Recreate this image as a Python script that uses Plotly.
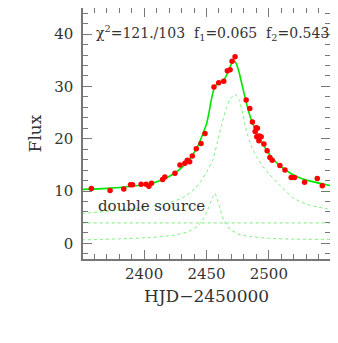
import plotly.graph_objects as go

# observed photometry (HJD-2450000, flux)
obs_t = [2357.7, 2372.7, 2383.7, 2389.1, 2390.7, 2397.6, 2401.6, 2403.8, 2405.9,
         2414.8, 2416.6, 2424.7, 2428.7, 2432.7, 2434.6, 2436.5, 2438.6, 2441.8,
         2445.6, 2448.8, 2456.0, 2459.8, 2463.8, 2466.7, 2468.9, 2470.5, 2472.9,
         2481.8, 2484.7, 2486.8, 2489.0, 2489.8, 2490.3, 2490.8, 2492.0, 2492.4,
         2493.8, 2496.0, 2498.6, 2500.8, 2502.7, 2508.8, 2512.9, 2517.9, 2520.6,
         2528.6, 2538.8, 2542.8]
obs_f = [10.5, 10.1, 10.4, 11.2, 11.2, 11.3, 11.3, 10.9, 11.5,
         12.2, 12.7, 13.4, 15.0, 15.3, 15.9, 15.6, 16.7, 18.1,
         19.1, 21.0, 29.9, 30.7, 31.0, 33.0, 33.2, 34.8, 35.7,
         27.4, 25.8, 23.2, 21.4, 22.1, 20.4, 22.0, 19.6, 20.5,
         20.4, 19.0, 17.7, 16.4, 15.9, 14.9, 14.0, 12.6, 12.6,
         11.7, 12.4, 11.0]

# total model light curve
model_t = [2350, 2370, 2390, 2405, 2415, 2425, 2432, 2438, 2443, 2447, 2450, 2452,
           2454, 2456, 2458, 2461, 2464, 2467, 2470, 2472, 2474, 2476, 2478, 2481,
           2484, 2487, 2490, 2494, 2498, 2503, 2510, 2518, 2526, 2535, 2550]
model_f = [10.3, 10.5, 10.9, 11.4, 12.2, 13.5, 14.9, 16.6, 18.6, 20.9, 22.8, 25.0,
           27.6, 29.5, 30.4, 30.8, 31.3, 32.6, 34.3, 34.9, 34.3, 32.8, 30.8, 27.8,
           25.0, 22.9, 21.3, 19.5, 17.9, 16.2, 14.6, 13.3, 12.4, 11.8, 11.0]

# source 1 component
src1_t = [2350, 2378, 2404, 2420, 2430, 2438, 2444, 2450, 2455, 2459, 2462, 2466,
          2469, 2473, 2476, 2479, 2482, 2486, 2490, 2495, 2500, 2510, 2520, 2530,
          2540, 2550]
src1_f = [5.7, 6.3, 7.0, 7.8, 8.6, 9.9, 11.4, 13.6, 15.9, 19.6, 22.6, 25.9,
          27.6, 28.5, 27.5, 24.8, 21.5, 18.6, 16.6, 14.8, 13.3, 10.8, 8.6, 7.5,
          6.9, 6.5]

# source 2 component
src2_t = [2350, 2380, 2405, 2425, 2435, 2443, 2448, 2452, 2455, 2456.5, 2458, 2461,
          2464, 2468, 2475, 2485, 2500, 2520, 2550]
src2_f = [0.65, 0.85, 1.1, 1.6, 2.2, 3.3, 4.9, 7.0, 8.9, 9.6, 8.9, 6.5,
          4.3, 2.9, 1.8, 1.3, 0.95, 0.8, 0.75]

# blend level
blend_t = [2350, 2550]
blend_f = [3.9, 3.9]

SERIF = "DejaVu Serif"
DOT_GREEN = "#7cf07c"
TXT = "#333333"

fig = go.Figure()

for t, f in [(src1_t, src1_f), (src2_t, src2_f), (blend_t, blend_f)]:
    fig.add_trace(go.Scatter(
        x=t, y=f, mode="lines",
        line=dict(color=DOT_GREEN, width=1, dash="dot", shape="spline", smoothing=0.6),
        showlegend=False, hoverinfo="skip"
    ))

fig.add_trace(go.Scatter(
    x=model_t, y=model_f, mode="lines",
    line=dict(color="#00e600", width=1.6, shape="spline", smoothing=0.6),
    showlegend=False
))

fig.add_trace(go.Scatter(
    x=obs_t, y=obs_f, mode="markers",
    marker=dict(color="#ff0000", size=5.5),
    showlegend=False
))

fig.add_annotation(
    text="χ<sup>2</sup>=121./103  f<sub>1</sub>=0.065  f<sub>2</sub>=0.543",
    xref="paper", yref="paper", x=0.045, y=0.9, xanchor="left", yanchor="middle",
    showarrow=False, font=dict(family=SERIF, size=14, color=TXT)
)
fig.add_annotation(
    text="double source",
    xref="paper", yref="paper", x=0.053, y=0.21, xanchor="left", yanchor="middle",
    showarrow=False, font=dict(family=SERIF, size=15, color=TXT)
)

axis_common = dict(
    showline=True, linecolor="#777777", linewidth=1.5, mirror="allticks",
    ticks="inside", tickcolor="#777777", tickwidth=1.2, ticklen=9,
    showgrid=False, zeroline=False, automargin=False,
    tickfont=dict(family=SERIF, size=15, color=TXT),
)

fig.update_xaxes(
    range=[2351, 2549], tick0=2400, dtick=50,
    minor=dict(dtick=10, ticklen=5, ticks="inside", tickcolor="#777777", tickwidth=1),
    title=dict(text="HJD−2450000", font=dict(family=SERIF, size=17, color=TXT), standoff=8),
    **axis_common
)
fig.update_yaxes(
    range=[-3, 45], tick0=0, dtick=10, ticklabelstandoff=5,
    minor=dict(dtick=2, ticklen=5, ticks="inside", tickcolor="#777777", tickwidth=1),
    title=dict(text="Flux", font=dict(family=SERIF, size=17, color=TXT), standoff=8),
    **axis_common
)

# page body adds an 8px offset, so the figure is sized to land the plot box
# at the same pixels as the reference
fig.update_layout(
    width=330, height=335,
    margin=dict(l=75, r=8, t=0, b=84),
    paper_bgcolor="white", plot_bgcolor="white",
    showlegend=False,
)

fig.write_html("out.html")
